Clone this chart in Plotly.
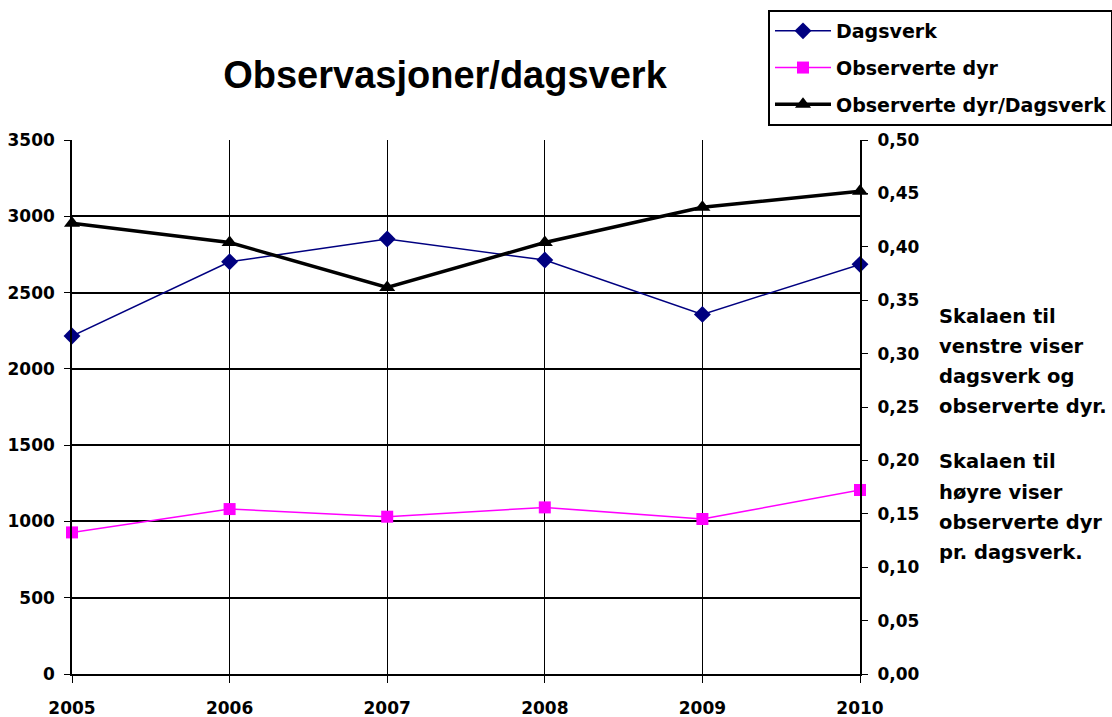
import plotly.graph_objects as go

years = [2005, 2006, 2007, 2008, 2009, 2010]
dagsverk = [2215, 2702, 2851, 2713, 2357, 2685]
observerte_dyr = [928, 1081, 1031, 1092, 1016, 1206]
dyr_per_dagsverk = [0.422, 0.404, 0.362, 0.404, 0.437, 0.452]

left_ticks = [0, 500, 1000, 1500, 2000, 2500, 3000, 3500]
right_ticks = [0.00, 0.05, 0.10, 0.15, 0.20, 0.25, 0.30, 0.35, 0.40, 0.45, 0.50]
right_ticktext = ["0,00", "0,05", "0,10", "0,15", "0,20", "0,25", "0,30", "0,35", "0,40", "0,45", "0,50"]

title_text = "Observasjoner/dagsverk"
note_lines_1 = ["Skalaen til", "venstre viser", "dagsverk og", "observerte dyr."]
note_lines_2 = ["Skalaen til", "høyre viser", "observerte dyr", "pr. dagsverk."]

TICKFONT = dict(family="DejaVu Sans", size=17, color="black", weight="bold")
LEGFONT = dict(family="DejaVu Sans", size=19, color="black", weight="bold")
TEXTFONT = dict(family="DejaVu Sans", size=19.5, color="black", weight="bold")

fig = go.Figure()
fig.add_trace(go.Scatter(
    x=years, y=dagsverk, name="Dagsverk", mode="lines+markers",
    line=dict(color="#000080", width=1.5),
    marker=dict(symbol="diamond", size=13, color="#000080"),
    cliponaxis=False, legendgroup="a"))
fig.add_trace(go.Scatter(
    x=years, y=observerte_dyr, name="Observerte dyr", mode="lines+markers",
    line=dict(color="#FF00FF", width=1.5),
    marker=dict(symbol="square", size=12, color="#FF00FF"),
    cliponaxis=False, legendgroup="b"))
fig.add_trace(go.Scatter(
    x=years, y=dyr_per_dagsverk, name="Observerte dyr/Dagsverk", mode="lines+markers",
    line=dict(color="black", width=3.5),
    marker=dict(symbol="triangle-up", size=14, color="black"),
    cliponaxis=False, yaxis="y2", legendgroup="c"))

plot_l, plot_r, plot_t, plot_b = 72, 860, 140, 674
W, H = 1112, 717

annotations = []
for block_top, lines in ((316, note_lines_1), (462, note_lines_2)):
    for i, line in enumerate(lines):
        yc = block_top + i * 30
        annotations.append(dict(text=line, xref="paper", yref="paper",
                                x=(937 - plot_l) / (plot_r - plot_l),
                                y=(plot_b - yc) / (plot_b - plot_t),
                                xanchor="left", yanchor="middle", showarrow=False,
                                font=TEXTFONT))

fig.update_layout(
    width=W, height=H,
    paper_bgcolor="white", plot_bgcolor="white",
    margin=dict(l=plot_l, r=W - plot_r, t=plot_t, b=H - plot_b, autoexpand=False),
    title=dict(text=title_text, x=445 / W, xref="container", xanchor="center",
               y=1 - 75 / H, yref="container", yanchor="middle",
               font=dict(family="Liberation Sans, Arial", size=38, color="black", weight="bold")),
    legend=dict(x=768 / W, y=1 - 10 / H, xref="container", yref="container",
                xanchor="left", yanchor="top", bordercolor="black", borderwidth=2,
                bgcolor="white", font=LEGFONT, tracegroupgap=9, itemwidth=56),
    xaxis=dict(range=[2005, 2010], tickvals=years, ticktext=[str(y) for y in years],
               showgrid=True, gridcolor="black", gridwidth=1.2,
               showline=True, linecolor="black", linewidth=2,
               ticks="outside", ticklen=7, tickcolor="black",
               ticklabelstandoff=11, tickfont=TICKFONT, zeroline=False),
    yaxis=dict(range=[0, 3500], tickvals=left_ticks, ticktext=[str(v) for v in left_ticks],
               showgrid=True, gridcolor="black", gridwidth=1.5,
               showline=True, linecolor="black", linewidth=1.5,
               ticks="outside", ticklen=6, tickcolor="black",
               ticklabelstandoff=6, tickfont=TICKFONT, zeroline=False),
    yaxis2=dict(range=[0, 0.5], overlaying="y", side="right",
                tickvals=right_ticks, ticktext=right_ticktext,
                showgrid=False, showline=True, linecolor="black", linewidth=2,
                ticks="outside", ticklen=6, tickcolor="black",
                ticklabelstandoff=6, tickfont=TICKFONT, zeroline=False),
    annotations=annotations,
)

fig.write_html("out.html", config={"displayModeBar": False},
               post_script="document.body.style.margin='0';document.body.style.overflow='hidden';")
